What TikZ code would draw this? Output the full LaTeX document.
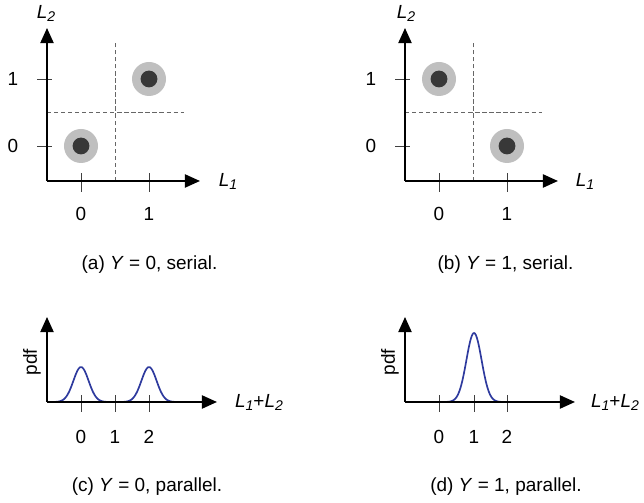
\documentclass[tikz,border=0pt]{standalone}
\usepackage{fontspec}
\setmainfont{Liberation Sans}
\usepackage{tikz}
\usetikzlibrary{arrows.meta}
\usepackage{xcolor}
\definecolor{pdfblue}{RGB}{46,58,158}
\newcommand{\Lsub}[1]{\textit{L}\raisebox{-0.3ex}{\fontsize{10pt}{12pt}\selectfont\textit{#1}}}

\begin{document}
\begin{tikzpicture}[x=0.025cm,y=0.025cm,>={Triangle[length=0.38cm,width=0.33cm]},font=\fontsize{13.5pt}{16pt}\selectfont,
  axis/.style={line width=1.4pt,->},
  tickmark/.style={line width=0.5pt,black!75},
  split/.style={black!60,line width=0.5pt,dash pattern=on 3pt off 2pt},
  halo/.style={fill=black!25},
  core/.style={fill=black!78},
  pdfcurve/.style={pdfblue,line width=1.2pt,line join=round}]
\useasboundingbox (0,0) rectangle (644,503);
\begin{scope}[shift={(47,322)}]
\draw[split] (68,0) -- (68,138);
\draw[split] (0,69) -- (137,69);
\fill[halo] (34,35) circle (0.425cm);
\fill[core] (34,35) circle (0.21cm);
\fill[halo] (102,102) circle (0.425cm);
\fill[core] (102,102) circle (0.21cm);
\draw[tickmark] (34,-11) -- (34,8);
\draw[tickmark] (102,-11) -- (102,8);
\draw[tickmark] (-10,35) -- (5,35);
\draw[tickmark] (-10,102) -- (5,102);
\draw[axis] (0,0) -- (153,0);
\draw[axis] (0,0) -- (0,153);
\node (a-x0) at (34,-33) {0};
\node (a-x1) at (102,-33) {1};
\node (a-y0) at (-34,35) {0};
\node (a-y1) at (-34,102) {1};
\node (a-l1) at (181,0) {\Lsub{1}};
\node (a-l2) at (-1,168) {\Lsub{2}};
\end{scope}
\begin{scope}[shift={(405,322)}]
\draw[split] (68,0) -- (68,138);
\draw[split] (0,69) -- (137,69);
\fill[halo] (34,102) circle (0.425cm);
\fill[core] (34,102) circle (0.21cm);
\fill[halo] (102,35) circle (0.425cm);
\fill[core] (102,35) circle (0.21cm);
\draw[tickmark] (34,-11) -- (34,8);
\draw[tickmark] (102,-11) -- (102,8);
\draw[tickmark] (-10,35) -- (5,35);
\draw[tickmark] (-10,102) -- (5,102);
\draw[axis] (0,0) -- (153,0);
\draw[axis] (0,0) -- (0,153);
\node (b-x0) at (34,-33) {0};
\node (b-x1) at (102,-33) {1};
\node (b-y0) at (-34,35) {0};
\node (b-y1) at (-34,102) {1};
\node (b-l1) at (180,0) {\Lsub{1}};
\node (b-l2) at (1,168) {\Lsub{2}};
\end{scope}
\begin{scope}[shift={(47,101)}]
\draw[pdfcurve] plot[domain=0:68,samples=50,smooth] (\x,{35*exp(-0.5*((\x-34)/7.6)*((\x-34)/7.6))})
  -- plot[domain=68:136,samples=50,smooth] (\x,{35*exp(-0.5*((\x-102)/7.6)*((\x-102)/7.6))});
\draw[tickmark] (34,-10) -- (34,7);
\draw[tickmark] (68,-10) -- (68,7);
\draw[tickmark] (102,-10) -- (102,7);
\draw[axis] (0,0) -- (170,0);
\draw[axis] (0,0) -- (0,85);
\node (c-x0) at (34,-35) {0};
\node (c-x1) at (68,-35) {1};
\node (c-x2) at (102,-35) {2};
\node[rotate=90] (c-pdf) at (-15,40) {pdf};
\node (c-sum) at (212,0) {\Lsub{1}+\Lsub{2}};
\end{scope}
\begin{scope}[shift={(405,101)}]
\draw[pdfcurve] plot[domain=34:102,samples=80,smooth] (\x,{69*exp(-0.5*((\x-69)/7.6)*((\x-69)/7.6))});
\draw[tickmark] (34,-10) -- (34,7);
\draw[tickmark] (69,-10) -- (69,7);
\draw[tickmark] (102,-10) -- (102,7);
\draw[axis] (0,0) -- (170,0);
\draw[axis] (0,0) -- (0,85);
\node (d-x0) at (34,-35) {0};
\node (d-x1) at (69,-35) {1};
\node (d-x2) at (102,-35) {2};
\node[rotate=90] (d-pdf) at (-15,40) {pdf};
\node (d-sum) at (210,0) {\Lsub{1}+\Lsub{2}};
\end{scope}
\node (cap-a) at (149.5,238) {(a) \textit{Y} = 0, serial.};
\node (cap-b) at (505.5,238) {(b) \textit{Y} = 1, serial.};
\node (cap-c) at (147,16) {(c) \textit{Y} = 0, parallel.};
\node (cap-d) at (506,16) {(d) \textit{Y} = 1, parallel.};
\end{tikzpicture}
\end{document}
